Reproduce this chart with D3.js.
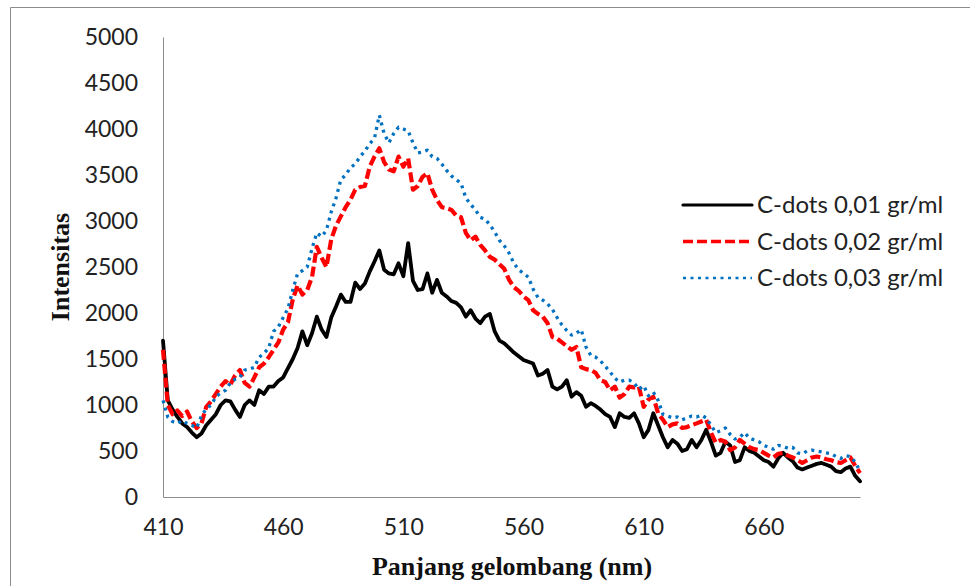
<!DOCTYPE html>
<html>
<head>
<meta charset="utf-8">
<script src="https://cdn.jsdelivr.net/npm/d3@7/dist/d3.min.js"></script>
<style>
  body { margin: 0; background: #ffffff; }
  svg { display: block; }
</style>
</head>
<body>
<svg id="chart" width="970" height="586"></svg>
<script>
// Emission spectra of C-dots at three concentrations (wavelength in nm, intensity in a.u.)
const wavelengths = [
  410,412,414,416,418,420,422,424,426,428,430,432,434,436,438,440,442,444,446,448,
  450,452,454,456,458,460,462,464,466,468,470,472,474,476,478,480,482,484,486,488,
  490,492,494,496,498,500,502,504,506,508,510,512,514,516,518,520,522,524,526,528,
  530,532,534,536,538,540,542,544,546,548,550,552,554,556,558,560,562,564,566,568,
  570,572,574,576,578,580,582,584,586,588,590,592,594,596,598,600,602,604,606,608,
  610,612,614,616,618,620,622,624,626,628,630,632,634,636,638,640,642,644,646,648,
  650,652,654,656,658,660,662,664,666,668,670,672,674,676,678,680,682,684,686,688,
  690,692,694,696,698,700
];

const cdots001 = [
  1700,1050,950,870,800,760,700,650,690,780,840,900,1000,1050,1040,950,870,1000,1050,1000,
  1160,1120,1200,1200,1260,1300,1400,1500,1620,1800,1650,1780,1960,1820,1740,1950,2070,2200,2120,2120,
  2330,2260,2320,2450,2560,2680,2470,2430,2420,2540,2400,2760,2350,2250,2260,2430,2220,2360,2220,2180,
  2130,2110,2060,1960,2030,1940,1890,1960,1990,1800,1700,1670,1620,1570,1530,1490,1470,1450,1320,1340,
  1380,1200,1170,1200,1270,1090,1140,1100,980,1020,990,950,900,870,760,910,870,860,910,800,
  650,730,910,780,650,540,620,580,500,520,620,540,620,730,600,450,480,600,560,380,
  400,540,500,480,440,400,380,330,420,480,430,390,320,300,320,340,360,370,350,330,
  280,270,310,330,230,170
];

const cdots002 = [
  1600,1000,900,940,880,930,820,750,800,980,1040,1120,1200,1260,1220,1320,1380,1240,1200,1300,
  1410,1450,1520,1600,1680,1820,1900,2150,2300,2200,2250,2390,2720,2600,2500,2800,2950,3050,3150,3230,
  3340,3370,3380,3590,3700,3790,3640,3560,3540,3700,3590,3680,3340,3380,3480,3520,3340,3230,3150,3140,
  3120,3060,3040,2870,2790,2830,2740,2680,2610,2580,2530,2480,2360,2280,2240,2180,2140,2030,1990,1960,
  1890,1740,1720,1680,1640,1600,1630,1410,1390,1380,1350,1270,1250,1160,1200,1080,1120,1200,1190,1200,
  980,1060,1090,910,840,760,790,800,750,760,780,800,820,840,700,590,620,600,510,540,
  620,580,540,520,510,480,450,430,470,480,450,430,400,370,400,430,440,430,410,400,
  380,370,400,430,340,260
];

const cdots003 = [
  1050,870,820,800,830,800,780,750,880,960,1000,1090,1130,1160,1240,1280,1300,1380,1390,1410,
  1520,1560,1620,1800,1850,1950,2050,2250,2430,2460,2500,2700,2870,2830,2900,3100,3250,3450,3500,3580,
  3620,3700,3760,3840,3900,4150,3950,3850,3950,4020,4000,3980,3850,3740,3750,3770,3700,3680,3620,3550,
  3490,3450,3410,3250,3180,3120,3040,3020,2960,2880,2790,2730,2650,2540,2470,2430,2390,2260,2170,2140,
  2100,2040,1950,1870,1810,1760,1780,1820,1630,1540,1520,1480,1420,1360,1290,1250,1270,1270,1240,1170,
  1210,1100,1140,1050,900,880,860,870,840,860,880,870,890,860,780,700,720,750,680,630,
  650,700,640,620,600,560,540,520,560,550,530,540,480,470,500,510,500,490,480,470,
  440,420,450,440,380,280
];

const seriesNames = ["C-dots 0,01 gr/ml", "C-dots 0,02 gr/ml", "C-dots 0,03 gr/ml"];
const xTicks = [410, 460, 510, 560, 610, 660];
const yTicks = [0, 500, 1000, 1500, 2000, 2500, 3000, 3500, 4000, 4500, 5000];
const xTitle = "Panjang gelombang (nm)";
const yTitle = "Intensitas";

const seriesValues = [cdots001, cdots002, cdots003];
const seriesStyle = [
  { color: "#000000", width: 3.8, dash: null, cap: "round" },
  { color: "#FF0000", width: 4.2, dash: "10,4", cap: "butt" },
  { color: "#0070C0", width: 3.3, dash: "3,4.5", cap: "butt" }
];

const svg = d3.select("#chart");
const plot = { left: 163, right: 860, top: 37, bottom: 497 };

// chart-area frame (only the left and top edges fall inside the view)
svg.append("path")
  .attr("d", "M10.5,586 L10.5,7.5 L970,7.5")
  .attr("fill", "none")
  .attr("stroke", "#8c8c8c")
  .attr("stroke-width", 1);

const x = d3.scaleLinear().domain([410, 700]).range([plot.left, plot.right]);
const y = d3.scaleLinear().domain([0, 5000]).range([plot.bottom, plot.top]);

const tickFont = "Lato, 'Open Sans', sans-serif";

// Y axis
const yAxis = svg.append("g")
  .attr("transform", `translate(${plot.left},0)`)
  .call(d3.axisLeft(y).tickValues(yTicks).tickSize(0).tickPadding(25).tickFormat(d3.format("d")));
yAxis.select(".domain").attr("stroke", "#8c8c8c").attr("stroke-width", 1);
yAxis.selectAll("text")
  .attr("font-family", tickFont)
  .attr("font-size", 23)
  .attr("fill", "#222");

// X axis
const xAxis = svg.append("g")
  .attr("transform", `translate(0,${plot.bottom})`)
  .call(d3.axisBottom(x).tickValues(xTicks).tickSize(0).tickPadding(22).tickFormat(d3.format("d")));
xAxis.select(".domain").attr("stroke", "#8c8c8c").attr("stroke-width", 1);
xAxis.selectAll("text")
  .attr("font-family", tickFont)
  .attr("font-size", 23)
  .attr("fill", "#222");

// Axis titles
svg.append("text")
  .attr("x", 512)
  .attr("y", 575)
  .attr("text-anchor", "middle")
  .attr("font-family", "'Liberation Serif', 'Times New Roman', serif")
  .attr("font-weight", "bold")
  .attr("font-size", 26)
  .attr("fill", "#111")
  .text(xTitle);

svg.append("text")
  .attr("transform", "translate(69,267) rotate(-90)")
  .attr("text-anchor", "middle")
  .attr("font-family", "'Liberation Serif', 'Times New Roman', serif")
  .attr("font-weight", "bold")
  .attr("font-size", 26)
  .attr("fill", "#111")
  .text(yTitle);

// Spectra
const line = d3.line()
  .x((d, i) => x(wavelengths[i]))
  .y(d => y(d));

seriesValues.forEach((vals, k) => {
  const st = seriesStyle[k];
  const p = svg.append("path")
    .datum(vals)
    .attr("d", line)
    .attr("fill", "none")
    .attr("stroke", st.color)
    .attr("stroke-width", st.width)
    .attr("stroke-linejoin", "round")
    .attr("stroke-linecap", st.cap);
  if (st.dash) p.attr("stroke-dasharray", st.dash);
});

// Legend
const legend = svg.append("g").attr("transform", "translate(683,205)");
seriesNames.forEach((name, k) => {
  const st = seriesStyle[k];
  const g = legend.append("g").attr("transform", `translate(0,${k * 36.5})`);
  const l = g.append("line")
    .attr("x1", 0).attr("x2", 69)
    .attr("y1", 0).attr("y2", 0)
    .attr("stroke", st.color)
    .attr("stroke-width", st.width - 0.6)
    .attr("stroke-linecap", st.cap);
  if (st.dash) l.attr("stroke-dasharray", st.dash);
  g.append("text")
    .attr("x", 74)
    .attr("y", 0)
    .attr("dy", "0.35em")
    .attr("font-family", tickFont)
    .attr("font-size", 24)
    .attr("fill", "#222")
    .text(name);
});
</script>
</body>
</html>
